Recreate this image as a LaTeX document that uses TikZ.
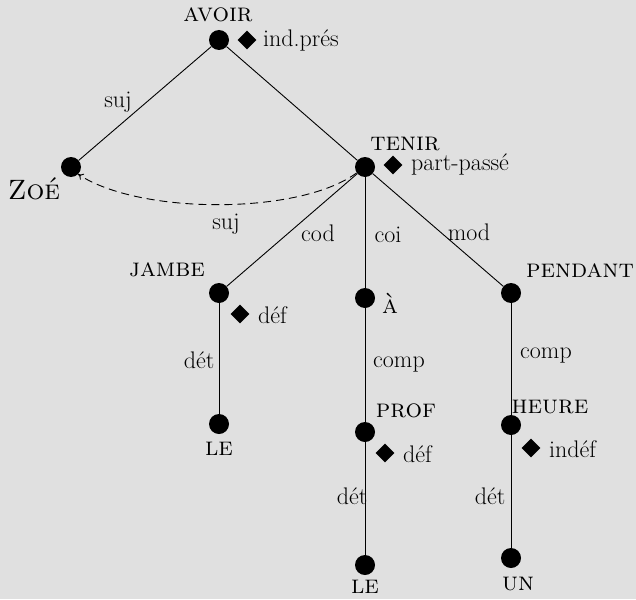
\documentclass[tikz,border=0pt]{standalone}
\usetikzlibrary{shapes.geometric,arrows.meta}
\definecolor{bg}{RGB}{224,224,224}
\begin{document}
\begin{tikzpicture}[x=1pt,y=-1pt,
  dot/.style={circle,fill=black,minimum size=20pt,inner sep=0pt},
  dia/.style={diamond,fill=black,minimum size=19pt,inner sep=0pt},
  txt/.style={font=\fontsize{24}{28}\selectfont,inner sep=0pt},
  sc/.style={font=\fontsize{26}{30}\selectfont\scshape,inner sep=0pt},
  edge/.style={line width=0.9pt}]
\fill[bg] (0,0) rectangle (636,599);
\useasboundingbox (0,0) rectangle (636,599);
% dots
\node[dot] (avoir) at (219,40) {};
\node[dot] (zoe) at (71,167) {};
\node[dot] (tenir) at (365,167) {};
\node[dot] (jambe) at (219,293) {};
\node[dot] (a) at (365,298) {};
\node[dot] (pendant) at (511,293) {};
\node[dot] (le1) at (219,424) {};
\node[dot] (prof) at (365,432) {};
\node[dot] (heure) at (511,425) {};
\node[dot] (le2) at (365,565) {};
\node[dot] (un) at (511,558) {};
% word labels
\node[sc] (avoirL) at (218,15) {avoir};
\node[sc,font=\fontsize{28}{32}\selectfont\scshape] (zoeL) at (34,189) {Zoé};
\node[sc] (tenirL) at (405,144) {tenir};
\node[sc] (jambeL) at (167,270) {jambe};
\node[sc,anchor=west] (aL) at (382,303) {à};
\node[sc] (pendantL) at (580,271) {pendant};
\node[sc] (le1L) at (219,449) {le};
\node[sc] (profL) at (406,411) {prof};
\node[sc] (heureL) at (550,407) {heure};
\node[sc] (le2L) at (365,587) {le};
\node[sc] (unL) at (518,584) {un};
% features
\node[dia] (d1) at (247,40) {};
\node[txt,anchor=west] (f1) at (263,40) {ind.prés};
\node[dia] (d2) at (393,165) {};
\node[txt,anchor=west] (f2) at (411,164) {part-passé};
\node[dia] (d3) at (240,314) {};
\node[txt,anchor=west] (f3) at (258,315) {déf};
\node[dia] (d4) at (385,453) {};
\node[txt,anchor=west] (f4) at (403,454) {déf};
\node[dia] (d5) at (531,448) {};
\node[txt,anchor=west] (f5) at (549,449) {indéf};
% edges
\draw[edge] (avoir) -- (zoe);
\draw[edge] (avoir) -- (tenir);
\draw[edge] (tenir) -- (jambe);
\draw[edge] (tenir) -- (a);
\draw[edge] (tenir) -- (pendant);
\draw[edge] (jambe) -- (le1);
\draw[edge] (a) -- (prof);
\draw[edge] (prof) -- (le2);
\draw[edge] (pendant) -- (heure);
\draw[edge] (heure) -- (un);
\draw[edge,dash pattern=on 8pt off 5pt,-{To[length=5pt,width=7pt]}]
  (tenir.215) .. controls (300,215) and (140,215) .. (zoe.-45);
% edge labels
\node[txt] (l1) at (118,102) {suj};
\node[txt] (l2) at (226,224) {suj};
\node[txt] (l3) at (318,233) {cod};
\node[txt] (l4) at (388,235) {coi};
\node[txt] (l5) at (469,232) {mod};
\node[txt] (l6) at (199,360) {dét};
\node[txt] (l7) at (399,365) {comp};
\node[txt] (l8) at (546,356) {comp};
\node[txt] (l9) at (352,496) {dét};
\node[txt] (l10) at (490,496) {dét};
\end{tikzpicture}
\end{document}
